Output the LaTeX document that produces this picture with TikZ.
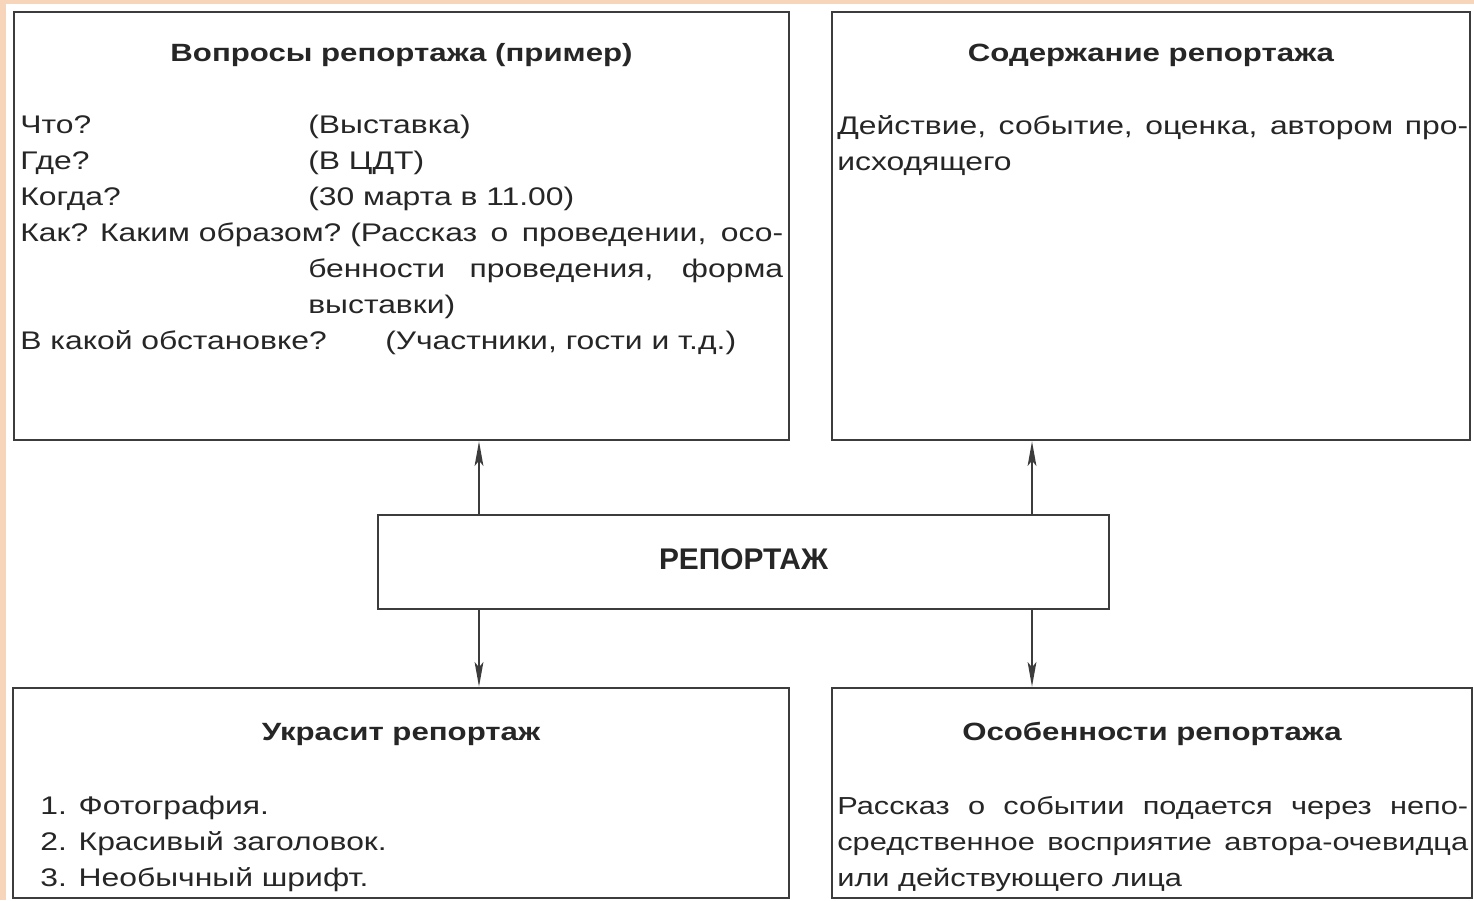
\documentclass[tikz,border=0pt]{standalone}
\usepackage{fontspec}
\setmainfont{Liberation Sans}[FakeStretch=1.25]
\newfontfamily\plainfont{Liberation Sans}
\usetikzlibrary{arrows.meta}
\definecolor{peach}{RGB}{247,213,186}
\definecolor{rule}{RGB}{60,60,60}
\tikzstyle{frame} = [rectangle, draw=rule, line width=1.6pt, inner sep=0pt]
\tikzstyle{heading} = [font=\fontsize{14.2}{17}\selectfont\bfseries, inner sep=0pt, anchor=base, text=black!85]
\tikzstyle{body} = [font=\fontsize{14.5}{20.5}\selectfont, inner sep=0pt, anchor=north west, align=justify, text=black!85]
\tikzstyle{arrow} = [line width=1pt, draw=rule, -{Stealth[length=14pt, width=5pt, inset=3pt]}]
\setlength{\parindent}{0pt}
\tolerance=10000
\hyphenpenalty=10000
\exhyphenpenalty=10000

\begin{document}
\begin{tikzpicture}[x=0.02cm, y=-0.02cm]
	\useasboundingbox (0,0) rectangle (1474,900);
	\fill[peach] (0,0) rectangle (1474,900);
	\fill[white] (6,4) rectangle (1474,900);

	\node (questions) [frame, minimum width=15.5cm, minimum height=8.56cm] at (401.5,226) {};
	\node (content) [frame, minimum width=12.76cm, minimum height=8.56cm] at (1151,226) {};
	\node (report) [frame, minimum width=14.62cm, minimum height=1.88cm, font=\plainfont\fontsize{17}{20}\selectfont\bfseries, text=black!85] at (743.5,562) {\raisebox{3pt}{РЕПОРТАЖ}};
	\node (decor) [frame, minimum width=15.52cm, minimum height=4.2cm] at (401,793) {};
	\node (features) [frame, minimum width=12.8cm, minimum height=4.2cm] at (1152,793) {};

	\node (questionstitle) [heading] at ([yshift=-1.02cm]questions.north) {Вопросы репортажа (пример)};
	\node (contenttitle) [heading] at ([yshift=-1.02cm]content.north) {Содержание репортажа};
	\node (decortitle) [heading] at ([yshift=-1.08cm]decor.north) {Украсит репортаж};
	\node (featurestitle) [heading] at ([yshift=-1.08cm]features.north) {Особенности репортажа};

	\node (questionstext) [body, text width=15.26cm] at (20,115) {%
		\makebox[5.76cm][l]{Что?}(Выставка)\par
		\makebox[5.76cm][l]{Где?}(В ЦДТ)\par
		\makebox[5.76cm][l]{Когда?}(30 марта в 11.00)\par
		\hangindent=5.76cm \hangafter=1
		\makebox[6.6cm][l]{Как? Каким образом?}(Рассказ о проведении, осо-\linebreak бенности проведения, форма\linebreak выставки)\par
		\makebox[7.3cm][l]{В какой обстановке?}(Участники, гости и т.д.)};
	\node (contenttext) [body, text width=12.62cm] at (837,115) {Действие, событие, оценка, автором про-\linebreak исходящего};
	\node (decortext) [body, align=left] at (40,796) {1. Фотография.\\ 2. Красивый заголовок.\\ 3. Необычный шрифт.};
	\node (featurestext) [body, text width=12.62cm, font=\fontsize{14}{20.5}\selectfont] at (837,796) {Рассказ о событии подается через непо-\linebreak средственное восприятие автора-очевидца\linebreak или действующего лица};

	\coordinate (lefttrack) at (479,562);
	\coordinate (righttrack) at (1032,562);
	\draw [arrow] (lefttrack |- report.north) -- (lefttrack |- questions.south);
	\draw [arrow] (righttrack |- report.north) -- (righttrack |- content.south);
	\draw [arrow] (lefttrack |- report.south) -- (lefttrack |- decor.north);
	\draw [arrow] (righttrack |- report.south) -- (righttrack |- features.north);
\end{tikzpicture}
\end{document}
